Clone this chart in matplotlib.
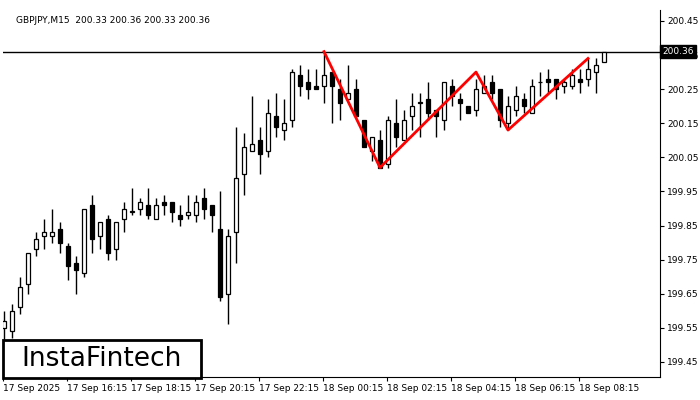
import matplotlib
matplotlib.use("Agg")
import matplotlib.pyplot as plt
from matplotlib.patches import Rectangle

opens  = [199.55,199.54,199.61,199.68,199.78,199.82,199.82,199.84,199.79,199.74,
          199.71,199.91,199.82,199.87,199.78,199.87,199.89,199.90,199.91,199.87,
          199.92,199.92,199.88,199.88,199.88,199.93,199.91,199.84,199.65,199.83,
          200.00,200.07,200.10,200.07,200.17,200.13,200.16,200.29,200.27,200.26,
          200.26,200.30,200.25,200.22,200.25,200.16,200.07,200.10,200.03,200.15,
          200.10,200.17,200.21,200.22,200.19,200.16,200.26,200.22,200.20,200.19,
          200.24,200.27,200.25,200.15,200.19,200.22,200.18,200.27,200.28,200.28,
          200.26,200.26,200.28,200.28,200.30,200.33]
highs  = [199.60,199.62,199.70,199.77,199.83,199.87,199.90,199.86,199.80,199.76,
          199.90,199.94,199.86,199.88,199.86,199.92,199.96,199.93,199.96,199.93,
          199.94,199.92,199.91,199.94,199.94,199.96,199.91,199.95,199.84,200.14,
          200.12,200.23,200.14,200.22,200.24,200.22,200.31,200.32,200.31,200.31,
          200.36,200.30,200.28,200.32,200.28,200.16,200.11,200.13,200.17,200.22,
          200.19,200.24,200.24,200.27,200.19,200.27,200.28,200.24,200.20,200.28,
          200.29,200.29,200.25,200.23,200.26,200.24,200.28,200.30,200.31,200.28,
          200.28,200.31,200.31,200.34,200.34,200.36]
lows   = [199.50,199.52,199.59,199.65,199.76,199.78,199.80,199.77,199.69,199.65,
          199.70,199.77,199.78,199.75,199.75,199.83,199.88,199.88,199.87,199.87,
          199.88,199.86,199.85,199.87,199.86,199.87,199.83,199.63,199.56,199.74,
          199.94,200.07,200.00,200.05,200.11,200.10,200.14,200.23,200.22,200.25,
          200.21,200.15,200.16,200.22,200.17,200.08,200.04,200.02,200.02,200.08,
          200.10,200.13,200.11,200.16,200.11,200.13,200.20,200.16,200.18,200.17,
          200.24,200.22,200.14,200.13,200.17,200.18,200.18,200.23,200.24,200.22,
          200.24,200.25,200.24,200.26,200.24,200.33]
closes = [199.57,199.60,199.67,199.77,199.81,199.83,199.83,199.80,199.73,199.72,
          199.90,199.81,199.86,199.77,199.86,199.90,199.89,199.92,199.88,199.91,
          199.91,199.89,199.87,199.89,199.92,199.90,199.88,199.64,199.82,199.99,
          200.08,200.09,200.06,200.18,200.14,200.15,200.30,200.26,200.25,200.25,
          200.29,200.26,200.21,200.24,200.17,200.08,200.11,200.02,200.16,200.11,
          200.16,200.20,200.21,200.18,200.17,200.27,200.23,200.21,200.18,200.25,
          200.26,200.24,200.16,200.20,200.23,200.20,200.26,200.27,200.27,200.25,
          200.27,200.29,200.27,200.31,200.32,200.36]

pattern_idx = [40, 47, 59, 63, 73]
pattern_val = [200.36, 200.02, 200.30, 200.13, 200.34]

tick_idx = [0, 8, 16, 24, 32, 40, 48, 56, 64, 72]
tick_labels = ["17 Sep 2025", "17 Sep 16:15", "17 Sep 18:15", "17 Sep 20:15",
               "17 Sep 22:15", "18 Sep 00:15", "18 Sep 02:15", "18 Sep 04:15",
               "18 Sep 06:15", "18 Sep 08:15"]
y_ticks = [200.45, 200.35, 200.25, 200.15, 200.05, 199.95, 199.85, 199.75, 199.65, 199.55, 199.45]
last_price = 200.36

fig = plt.figure(figsize=(7, 4), dpi=100)
ax = fig.add_axes([3/700, 23/400, 657/700, 367/400])
ax.set_xlim(-0.125, 82)
ax.set_ylim(199.406, 200.482)

w = 0.6
for i, (o, h, l, c) in enumerate(zip(opens, highs, lows, closes)):
    ax.vlines(i, l, h, color="black", lw=1, zorder=2)
    bottom = min(o, c)
    height = max(abs(c - o), 0.002)
    face = "white" if c >= o else "black"
    ax.add_patch(Rectangle((i - w/2, bottom), w, height, facecolor=face,
                           edgecolor="black", lw=0.9, zorder=3))

ax.axhline(last_price, color="black", lw=1, zorder=1)
ax.plot(pattern_idx, pattern_val, color="red", lw=2, zorder=4)

ax.yaxis.tick_right()
ax.set_yticks(y_ticks)
ax.set_yticklabels([f"{v:.2f}" for v in y_ticks], fontsize=6.5)
ax.set_xticks([t - 0.125 for t in tick_idx])
ax.set_xticklabels(tick_labels, fontsize=6.5, ha="left")
ax.tick_params(length=3, width=0.8, pad=2)
for s in ["top", "left"]:
    ax.spines[s].set_visible(False)

ax.text(1.003, last_price, "200.36", transform=ax.get_yaxis_transform(),
        fontsize=6.5, color="white", va="center", ha="left",
        bbox=dict(boxstyle="square,pad=0.25", fc="black", ec="black"), zorder=5, clip_on=False)

ax.text(0.02, 0.985, "GBPJPY,M15  200.33 200.36 200.33 200.36", transform=ax.transAxes,
        fontsize=6.5, va="top", ha="left")

fig.patches.append(Rectangle((3/700, 22/400), 198/700, 38/400, transform=fig.transFigure,
                             fc="white", ec="black", lw=2, zorder=10))
fig.text(102/700, 41/400, "InstaFintech", fontsize=19, ha="center", va="center",
         family="DejaVu Sans", zorder=11)

fig.savefig("out.png", dpi=100)
